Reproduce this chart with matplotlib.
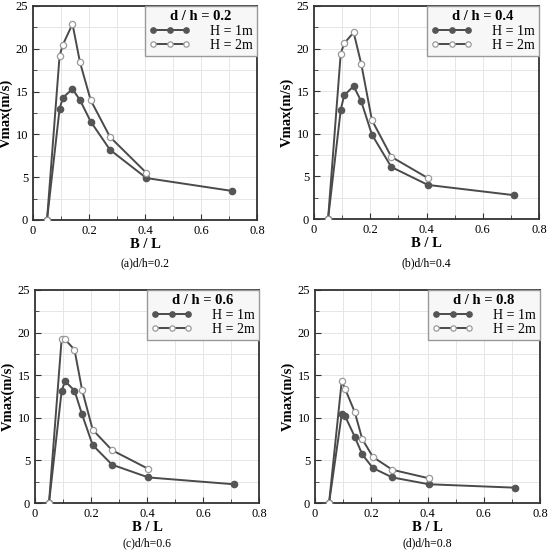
import matplotlib
matplotlib.use("Agg")
import matplotlib.pyplot as plt
from matplotlib.ticker import MultipleLocator

# B/L values
bl_1m = [0.05, 0.095, 0.107, 0.141, 0.168, 0.206, 0.275, 0.405, 0.71]
bl_2m = [0.05, 0.095, 0.107, 0.141, 0.168, 0.206, 0.275, 0.405]

ratios = ["0.2", "0.4", "0.6", "0.8"]
captions = ["(a)d/h=0.2", "(b)d/h=0.4", "(c)d/h=0.6", "(d)d/h=0.8"]

v_1m = {
    "0.2": [0, 13.0, 14.3, 15.3, 14.0, 11.5, 8.2, 4.9, 3.4],
    "0.4": [0, 12.8, 14.5, 15.6, 13.8, 9.9, 6.1, 4.0, 2.8],
    "0.6": [0, 13.1, 14.3, 13.2, 10.4, 6.8, 4.5, 3.0, 2.2],
    "0.8": [0, 10.4, 10.2, 7.8, 5.7, 4.1, 3.0, 2.2, 1.8],
}
v_2m = {
    "0.2": [0, 19.2, 20.5, 22.9, 18.4, 14.0, 9.7, 5.5],
    "0.4": [0, 19.4, 20.6, 21.9, 18.2, 11.6, 7.3, 4.8],
    "0.6": [0, 19.2, 19.2, 18.0, 13.3, 8.6, 6.2, 4.0],
    "0.8": [0, 14.3, 13.4, 10.7, 7.5, 5.4, 3.9, 2.9],
}

plt.rcParams["font.family"] = ["Liberation Serif", "DejaVu Serif"]

fig = plt.figure(figsize=(5.55, 5.54), dpi=100)
W, H = 555.0, 554.0
# axes boxes in pixels (left, top, right, bottom) and caption centre y
boxes = [(33, 6, 257, 220), (314, 6, 539, 219), (35, 290, 259, 503), (315, 290, 540, 503)]
cap_y = [263, 263, 543, 543]

line_col = "#4a4a4a"
for r, cap, (x0, y0, x1, y1), cy in zip(ratios, captions, boxes, cap_y):
    ax = fig.add_axes([x0 / W, 1 - y1 / H, (x1 - x0) / W, (y1 - y0) / H])
    ax.plot(bl_1m, v_1m[r], color=line_col, lw=1.4, marker="o", ms=4.5,
            mfc="#555555", mec="#555555", label="H = 1m", zorder=3)
    ax.plot(bl_2m, v_2m[r], color=line_col, lw=1.4, marker="o", ms=4.5,
            mfc="white", mec="#9a9a9a", mew=0.9, label="H = 2m", zorder=3)
    ax.set_xlim(0, 0.8)
    ax.set_ylim(0, 25)
    ax.xaxis.set_major_locator(MultipleLocator(0.2))
    ax.xaxis.set_minor_locator(MultipleLocator(0.1))
    ax.yaxis.set_major_locator(MultipleLocator(5))
    ax.yaxis.set_minor_locator(MultipleLocator(2.5))
    ax.xaxis.set_major_formatter(plt.FuncFormatter(lambda v, p: "0" if v == 0 else "%g" % v))
    ax.tick_params(which="both", direction="in", labelsize=9, color="#333333")
    ax.tick_params(which="major", length=4)
    ax.tick_params(which="minor", length=3)
    ax.grid(True, which="both", color="#e6e6e6", lw=0.7, zorder=0)
    for s in ax.spines.values():
        s.set_linewidth(1.3)
        s.set_color("#333333")
    ax.set_xlabel("B / L", fontsize=10.5, fontweight="bold", labelpad=1)
    ax.set_ylabel("Vmax(m/s)", fontsize=10.5, fontweight="bold", labelpad=2)
    fig.text((x0 + x1) / 2 / W, 1 - cy / H, cap, ha="center", va="center", fontsize=8.5)
    leg = ax.legend(loc="upper right", numpoints=3, fontsize=10, handlelength=3.0,
                    borderaxespad=0, fancybox=False, framealpha=1, markerscale=0.85,
                    edgecolor="#999999", facecolor="#f7f7f7",
                    title="d / h = " + r, handletextpad=1.4,
                    borderpad=0.3, labelspacing=0.1)
    leg.get_title().set_fontweight("bold")
    leg.get_title().set_fontsize(10.5)

fig.savefig("out.png", dpi=100)
